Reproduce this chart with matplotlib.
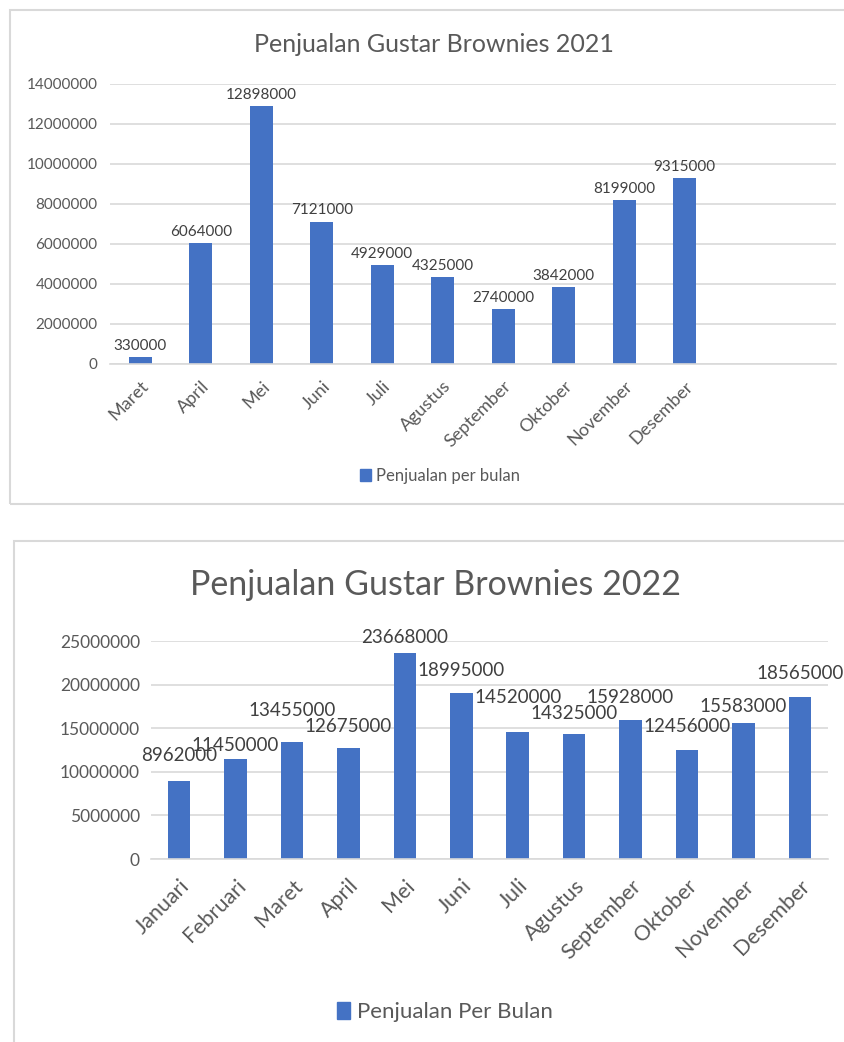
import matplotlib
matplotlib.use('Agg')
import matplotlib.pyplot as plt
from matplotlib.patches import Rectangle, Patch

plt.rcParams['font.family'] = ['Lato', 'DejaVu Sans']

# 2021 data (two blank slots at the end, as in the source sheet)
months_2021 = ['Maret', 'April', 'Mei', 'Juni', 'Juli', 'Agustus',
               'September', 'Oktober', 'November', 'Desember', '', '']
sales_2021 = [330000, 6064000, 12898000, 7121000, 4929000, 4325000,
              2740000, 3842000, 8199000, 9315000]

# 2022 data
months_2022 = ['Januari', 'Februari', 'Maret', 'April', 'Mei', 'Juni', 'Juli',
               'Agustus', 'September', 'Oktober', 'November', 'Desember']
sales_2022 = [8962000, 11450000, 13455000, 12675000, 23668000, 18995000,
              14520000, 14325000, 15928000, 12456000, 15583000, 18565000]

# how far each 2022 label sits above its bar (px), labels were dragged in excel
lift_2022 = [25, 14, 31, 22, 15, 23, 35, 21, 23, 24, 17, 24]

W, H = 845, 1042
BLUE = '#4472C4'
GRID = '#d9d9d9'
TXT = '#595959'
LBL = '#404040'

fig = plt.figure(figsize=(W / 100, H / 100), dpi=100)


def px_axes(x0, y_top, x1, y_bot):
    return fig.add_axes([x0 / W, 1 - y_bot / H, (x1 - x0) / W, (y_bot - y_top) / H])


def style_axes(ax, ymax, step, tick_fs, pad):
    ax.set_ylim(0, ymax)
    ax.set_yticks(range(0, ymax + 1, step))
    ax.yaxis.grid(True, color=GRID, linewidth=1.2)
    ax.set_axisbelow(True)
    for s in ['top', 'right', 'left']:
        ax.spines[s].set_visible(False)
    ax.spines['bottom'].set_color(GRID)
    ax.spines['bottom'].set_linewidth(1.2)
    ax.tick_params(axis='y', length=0, pad=pad, labelsize=tick_fs, labelcolor=TXT)
    ax.tick_params(axis='x', length=0, labelcolor=TXT)
    ax.yaxis.set_major_formatter(matplotlib.ticker.FuncFormatter(lambda x, p: '%d' % x))


# frames around the two charts
fig.add_artist(Rectangle((10 / W, 1 - 504 / H), 1.0, (504 - 10) / H,
                         transform=fig.transFigure, fill=False, edgecolor=GRID, lw=1.5))
fig.add_artist(Rectangle((14 / W, -0.1), 1.0, 0.1 + (1 - 541 / H),
                         transform=fig.transFigure, fill=False, edgecolor=GRID, lw=1.5))

# ---- chart 1 ----
ax1 = px_axes(110, 84, 836, 364)
style_axes(ax1, 14000000, 2000000, 11, 9)
ax1.set_xlim(-0.5, len(months_2021) - 0.5)
ax1.bar(range(len(sales_2021)), sales_2021, width=0.375, color=BLUE)
ax1.set_xticks(range(len(months_2021)))
ax1.set_xticklabels(months_2021, rotation=45, ha='right', va='top',
                    rotation_mode='anchor', fontsize=13)
ax1.tick_params(axis='x', pad=10)
for i, v in enumerate(sales_2021):
    ax1.annotate(str(v), (i, v), xytext=(0, 3), textcoords='offset points',
                 ha='center', va='bottom', fontsize=11, color=LBL)
fig.text(434 / W, 1 - 45 / H, 'Penjualan Gustar Brownies 2021', ha='center', va='center',
         fontsize=18, color=TXT)
fig.legend(handles=[Patch(color=BLUE)], labels=['Penjualan per bulan'],
           loc='center', bbox_to_anchor=(440 / W, 1 - 476 / H), frameon=False,
           fontsize=12, labelcolor=TXT, handlelength=0.7, handleheight=0.7,
           handletextpad=0.3)

# ---- chart 2 ----
ax2 = px_axes(151, 641, 828, 859)
style_axes(ax2, 25000000, 5000000, 12.5, 8)
ax2.set_xlim(-0.5, len(months_2022) - 0.5)
ax2.bar(range(len(sales_2022)), sales_2022, width=0.4, color=BLUE)
ax2.set_xticks(range(len(months_2022)))
ax2.set_xticklabels(months_2022, rotation=45, ha='right', va='top',
                    rotation_mode='anchor', fontsize=15.5)
ax2.tick_params(axis='x', pad=12)
for i, v in enumerate(sales_2022):
    ax2.annotate(str(v), (i, v), xytext=(0, lift_2022[i] * 0.72), textcoords='offset points',
                 ha='center', va='center', fontsize=13.5, color=LBL)
fig.text(436 / W, 1 - 585 / H, 'Penjualan Gustar Brownies 2022', ha='center', va='center',
         fontsize=24.5, color=TXT)
fig.legend(handles=[Patch(color=BLUE)], labels=['Penjualan Per Bulan'],
           loc='center', bbox_to_anchor=(445 / W, 1 - 1012 / H), frameon=False,
           fontsize=16, labelcolor=TXT, handlelength=0.6, handleheight=0.8,
           handletextpad=0.3)

fig.savefig('out.png', dpi=100, facecolor='white')
